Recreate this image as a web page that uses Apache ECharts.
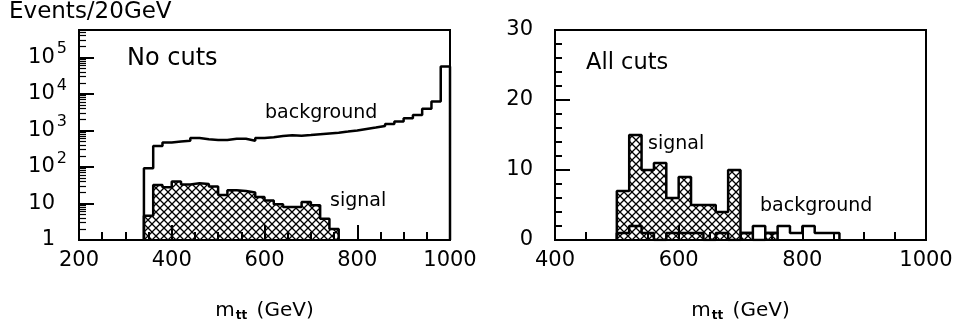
<!DOCTYPE html>
<html>
<head>
<meta charset="UTF-8">
<script src="https://cdn.jsdelivr.net/npm/echarts@6/dist/echarts.min.js"></script>
<style>
  html, body { margin: 0; padding: 0; background: #fff; }
  #main { width: 963px; height: 329px; }
</style>
</head>
<body>
<div id="main"></div>
<script>
// bin low edges (GeV), 20 GeV bins
var binWidth = 20;
var leftBgBins = [340, 360, 380, 400, 420, 440, 460, 480, 500, 520, 540, 560, 580, 600, 620, 640, 660,
                  680, 700, 720, 740, 760, 780, 800, 820, 840, 860, 880, 900, 920, 940, 960, 980];
var leftBg = [92, 376, 465, 495, 525, 620, 570, 550, 550, 590, 590, 525, 620, 650, 700, 740, 720,
              750, 790, 830, 870, 930, 1000, 1100, 1200, 1320, 1500, 1750, 2150, 2650, 3900, 6150, 56000];
var leftSigBins = [340, 360, 380, 400, 420, 440, 460, 480, 500, 520, 540, 560, 580, 600, 620, 640, 660,
                   680, 700, 720, 740];
var leftSig = [4.6, 32, 28, 40, 33, 36, 34, 29, 17, 23, 22, 20, 15, 12, 9.5, 8, 8, 11, 9, 3.8, 2];

var rightBgBins = [500, 520, 540, 560, 580, 600, 620, 640, 660, 680, 700, 720, 740, 760, 780, 800, 820, 840];
var rightBg = [1, 2, 1, 0, 1, 1, 1, 0, 1, 0, 1, 2, 1, 2, 1, 2, 1, 1];
var rightSigBins = [500, 520, 540, 560, 580, 600, 620, 640, 660, 680, 700, 720, 740];
var rightSig = [7, 15, 10, 11, 6, 9, 5, 5, 4, 10, 1, 0, 1];

var FONT = 'DejaVu Sans';

// step outline points: up from base, across each bin, back down to base
function steps(lows, counts, base) {
    var pts = [[lows[0], base]];
    for (var i = 0; i < lows.length; i++) {
        pts.push([lows[i], counts[i]]);
    }
    var end = lows[lows.length - 1] + binWidth;
    pts.push([end, counts[counts.length - 1]]);
    pts.push([end, base]);
    return pts;
}

function hatch() {
    var c = document.createElement('canvas');
    c.width = 8; c.height = 8;
    var g = c.getContext('2d');
    g.strokeStyle = '#000';
    g.lineWidth = 1.3;
    g.beginPath();
    g.moveTo(0, 0); g.lineTo(8, 8);
    g.moveTo(8, 0); g.lineTo(0, 8);
    g.stroke();
    return c;
}
var pattern = { image: hatch(), repeat: 'repeat' };

function logLabel(v) {
    var l = Math.log10(v);
    var e = Math.round(l);
    if (Math.abs(l - e) > 1e-6) return '';
    if (e === 0) return '{b|1}{p| }';
    if (e === 1) return '{b|10}{p| }';
    return '{b|10}{s|' + e + '}';
}

var xName = '{m|m}{t|tt}{m| (GeV)}';
var nameRich = {
    m: { fontFamily: FONT, fontSize: 20, color: '#000' },
    t: { fontFamily: FONT, fontSize: 12, fontWeight: 'bold', color: '#000', padding: [10, 3, 0, 1] }
};

function xAxis(idx, min) {
    return {
        type: 'value', gridIndex: idx, min: min, max: 1000, interval: 200,
        name: xName, nameLocation: 'middle', nameGap: 60,
        nameTextStyle: { rich: nameRich },
        axisLine: { show: false },
        axisTick: { show: true, inside: true, length: 15, lineStyle: { color: '#000', width: 2 } },
        minorTick: { show: true, splitNumber: 4, length: 8, lineStyle: { color: '#000', width: 2 } },
        splitLine: { show: false },
        axisLabel: { fontFamily: FONT, fontSize: 21, color: '#000', margin: 10,
                     formatter: function (v) { return String(v); } }
    };
}

var myChart = echarts.init(document.getElementById('main'), null, { renderer: 'canvas' });

option = {
    animation: false,
    backgroundColor: '#fff',
    grid: [
        { left: 79, right: 513, top: 30, bottom: 89, show: true, borderColor: '#000', borderWidth: 2 },
        { left: 555, right: 37, top: 30, bottom: 89, show: true, borderColor: '#000', borderWidth: 2 }
    ],
    xAxis: [xAxis(0, 200), xAxis(1, 400)],
    yAxis: [
        {
            type: 'log', logBase: 10, gridIndex: 0, min: 1, max: 562000,
            axisLine: { show: false },
            axisTick: { show: true, inside: true, length: 15, lineStyle: { color: '#000', width: 2 } },
            minorTick: { show: true, splitNumber: 9, length: 7, lineStyle: { color: '#000', width: 1.2 } },
            splitLine: { show: false },
            axisLabel: {
                formatter: logLabel, margin: 12,
                rich: {
                    b: { fontFamily: FONT, fontSize: 21, color: '#000', lineHeight: 21, verticalAlign: 'bottom' },
                    s: { fontFamily: FONT, fontSize: 16, color: '#000', lineHeight: 16, verticalAlign: 'bottom',
                         padding: [0, 0, 11, 2] },
                    p: { fontFamily: FONT, fontSize: 16, width: 12 }
                }
            }
        },
        {
            type: 'value', gridIndex: 1, min: 0, max: 30, interval: 10,
            axisLine: { show: false },
            axisTick: { show: true, inside: true, length: 15, lineStyle: { color: '#000', width: 2 } },
            minorTick: { show: true, splitNumber: 5, length: 7, lineStyle: { color: '#000', width: 2 } },
            splitLine: { show: false },
            axisLabel: { fontFamily: FONT, fontSize: 21, color: '#000', margin: 22 }
        }
    ],
    graphic: [
        { type: 'text', left: 9, top: 1, style: { text: 'Events/20GeV', font: '23px "DejaVu Sans"', fill: '#000' } },
        { type: 'text', left: 127, top: 47, style: { text: 'No cuts', font: '24px "DejaVu Sans"', fill: '#000' } },
        { type: 'text', left: 265, top: 104, style: { text: 'background', font: '19px "DejaVu Sans"', fill: '#000' } },
        { type: 'text', left: 330, top: 192, style: { text: 'signal', font: '19px "DejaVu Sans"', fill: '#000' } },
        { type: 'text', left: 586, top: 52, style: { text: 'All cuts', font: '22.5px "DejaVu Sans"', fill: '#000' } },
        { type: 'text', left: 648, top: 135, style: { text: 'signal', font: '19px "DejaVu Sans"', fill: '#000' } },
        { type: 'text', left: 760, top: 197, style: { text: 'background', font: '19px "DejaVu Sans"', fill: '#000' } }
    ],
    series: [
        {
            name: 'signal', type: 'line', xAxisIndex: 0, yAxisIndex: 0, step: 'end', symbol: 'none',
            data: steps(leftSigBins, leftSig, 1),
            lineStyle: { color: '#000', width: 2.5 },
            areaStyle: { color: pattern, opacity: 1 }
        },
        {
            name: 'background', type: 'line', xAxisIndex: 0, yAxisIndex: 0, step: 'end', symbol: 'none',
            data: steps(leftBgBins, leftBg, 1),
            lineStyle: { color: '#000', width: 2.5 }
        },
        {
            name: 'signal', type: 'line', xAxisIndex: 1, yAxisIndex: 1, step: 'end', symbol: 'none',
            data: steps(rightSigBins, rightSig, 0),
            lineStyle: { color: '#000', width: 2.5 },
            areaStyle: { color: pattern, opacity: 1 }
        },
        {
            name: 'background', type: 'line', xAxisIndex: 1, yAxisIndex: 1, step: 'end', symbol: 'none',
            data: steps(rightBgBins, rightBg, 0),
            lineStyle: { color: '#000', width: 2.5 }
        }
    ]
};

myChart.setOption(option);
</script>
</body>
</html>
